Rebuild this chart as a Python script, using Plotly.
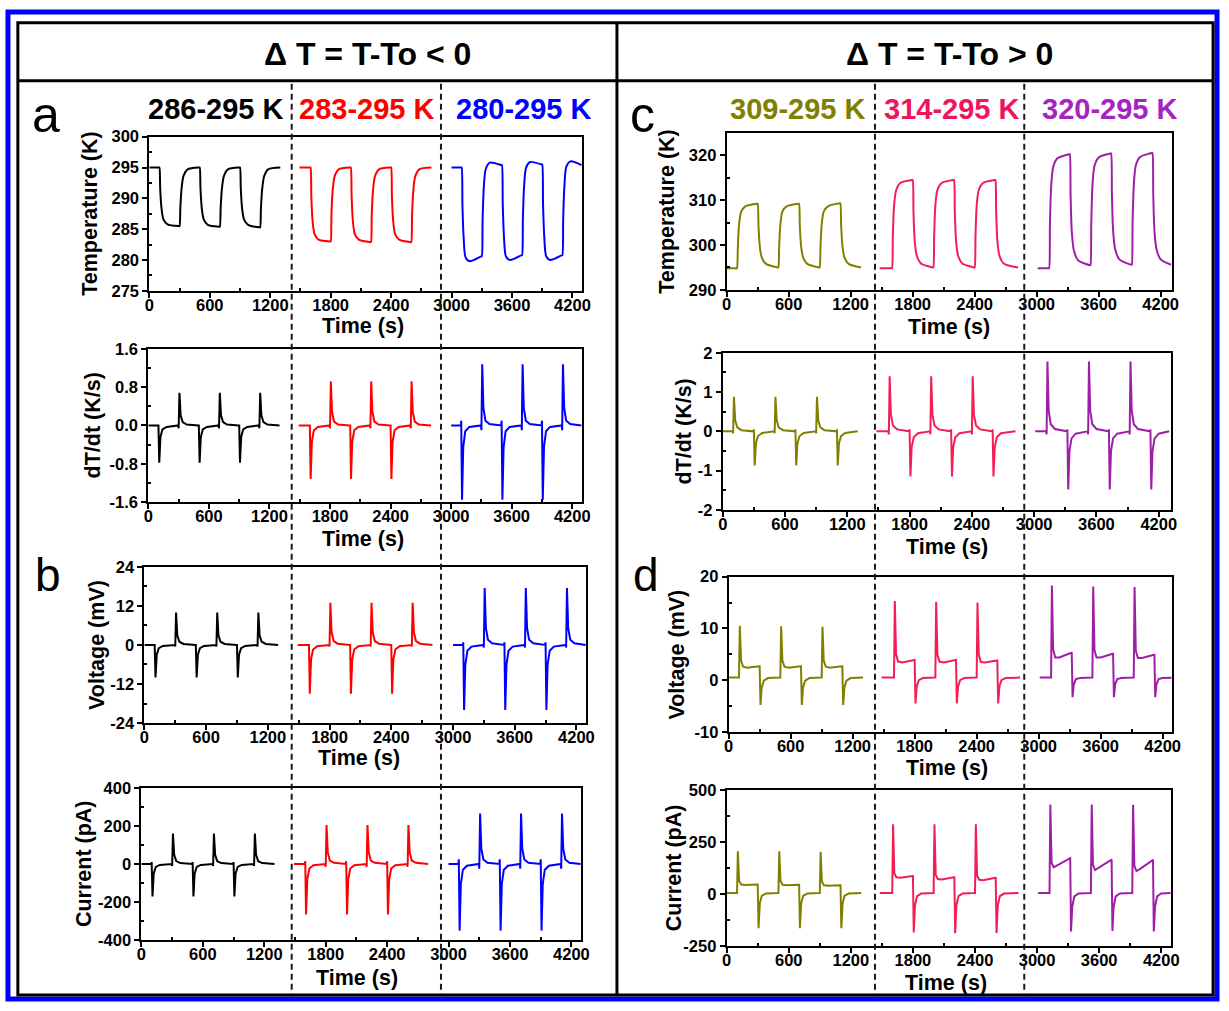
import plotly.graph_objects as go

# ---------------- time bases (s) ----------------
T_BLACK = [0, 96, 100, 108, 120, 140, 180, 296, 300, 308, 320, 340, 380, 496,
           500, 508, 520, 540, 580, 696, 700, 708, 720, 740, 780, 896,
           900, 908, 920, 940, 980, 1096, 1100, 1108, 1120, 1140, 1180, 1300]
T_RED = [1490, 1596, 1600, 1608, 1620, 1640, 1680, 1796, 1800, 1808, 1820, 1840, 1880, 1996,
         2000, 2008, 2020, 2040, 2080, 2196, 2200, 2208, 2220, 2240, 2280, 2396,
         2400, 2408, 2420, 2440, 2480, 2596, 2600, 2608, 2620, 2640, 2680, 2800]
T_BLUE = [3000, 3096, 3100, 3108, 3120, 3140, 3180, 3296, 3300, 3308, 3320, 3340, 3380, 3496,
          3500, 3508, 3520, 3540, 3580, 3696, 3700, 3708, 3720, 3740, 3780, 3896,
          3900, 3908, 3920, 3940, 3980, 4096, 4100, 4108, 4120, 4140, 4180, 4290]
T_OLIVE = [0, 96, 100, 108, 120, 140, 180, 296, 300, 308, 320, 340, 380, 496,
           500, 508, 520, 540, 580, 696, 700, 708, 720, 740, 780, 896,
           900, 908, 920, 940, 980, 1096, 1100, 1108, 1120, 1140, 1180, 1300]
T_PINK = [1480, 1596, 1600, 1608, 1620, 1640, 1680, 1796, 1800, 1808, 1820, 1840, 1880, 1996,
          2000, 2008, 2020, 2040, 2080, 2196, 2200, 2208, 2220, 2240, 2280, 2396,
          2400, 2408, 2420, 2440, 2480, 2596, 2600, 2608, 2620, 2640, 2680, 2820]
T_PURPLE = [3010, 3116, 3120, 3128, 3140, 3160, 3200, 3316, 3320, 3328, 3340, 3360, 3400, 3516,
            3520, 3528, 3540, 3560, 3600, 3716, 3720, 3728, 3740, 3760, 3800, 3916,
            3920, 3928, 3940, 3960, 4000, 4116, 4120, 4128, 4140, 4160, 4200, 4300]

# ---------------- (a) temperature, cooling (K) ----------------
TEMP_BLACK = [295.0, 295.0,
              295.0, 291.5, 288.5, 286.6, 285.8, 285.5,
              285.5, 288.6, 291.6, 293.7, 294.7, 295.0,
              295.0, 291.5, 288.5, 286.6, 285.7, 285.4,
              285.4, 288.5, 291.5, 293.6, 294.7, 295.0,
              295.0, 291.5, 288.5, 286.6, 285.7, 285.3,
              285.3, 288.5, 291.5, 293.6, 294.7, 295.0]
TEMP_RED = [295.0, 295.0,
            295.0, 290.2, 286.4, 284.2, 283.3, 283.0,
            283.0, 287.6, 291.3, 293.6, 294.7, 295.0,
            295.0, 290.2, 286.4, 284.2, 283.3, 282.9,
            282.9, 287.5, 291.2, 293.6, 294.7, 295.0,
            295.0, 290.2, 286.4, 284.2, 283.3, 282.9,
            282.9, 287.5, 291.2, 293.6, 294.7, 295.0]
TEMP_BLUE = [295.0, 295.0,
             295.0, 288.8, 283.6, 280.4, 279.8, 280.6,
             280.6, 286.6, 291.8, 294.8, 295.8, 295.4,
             295.4, 289.0, 283.8, 280.6, 280.0, 280.8,
             280.8, 286.8, 292.0, 295.0, 295.9, 295.5,
             295.5, 289.0, 283.8, 280.6, 280.0, 280.8,
             280.8, 286.8, 292.0, 295.2, 296.0, 295.4]

# ---------------- (a) dT/dt, cooling (K/s) ----------------
DTDT_BLACK = [0.0, 0.0,
              0.0, -0.78, -0.24, -0.08, -0.03, 0.0,
              -0.06, 0.68, 0.21, 0.07, 0.02, 0.0,
              0.0, -0.78, -0.24, -0.08, -0.03, 0.0,
              -0.06, 0.68, 0.21, 0.07, 0.02, 0.0,
              0.0, -0.78, -0.24, -0.08, -0.03, 0.0,
              -0.06, 0.68, 0.21, 0.07, 0.02, 0.0]
DTDT_RED = [0.0, 0.0,
            0.0, -1.12, -0.34, -0.10, -0.03, 0.0,
            -0.06, 0.92, 0.28, 0.08, 0.02, 0.0,
            0.0, -1.12, -0.34, -0.10, -0.03, 0.0,
            -0.06, 0.92, 0.28, 0.08, 0.02, 0.0,
            0.0, -1.12, -0.34, -0.10, -0.03, 0.0,
            -0.06, 0.92, 0.28, 0.08, 0.02, 0.0]
DTDT_BLUE = [0.0, 0.0,
             0.10, -1.55, -0.45, -0.12, -0.03, 0.0,
             -0.10, 1.28, 0.36, 0.10, 0.03, 0.0,
             0.10, -1.55, -0.45, -0.12, -0.03, 0.0,
             -0.10, 1.28, 0.36, 0.10, 0.03, 0.0,
             0.10, -1.55, -0.45, -0.12, -0.03, 0.0,
             -0.10, 1.28, 0.36, 0.10, 0.03, 0.0]

# ---------------- (b) voltage, cooling (mV) ----------------
VOLT_BLACK = [0.0, 0.0,
              0.0, -10.0, -3.0, -1.0, -0.3, 0.0,
              -0.5, 10.0, 3.0, 1.0, 0.3, 0.0,
              0.0, -10.0, -3.0, -1.0, -0.3, 0.0,
              -0.5, 10.0, 3.0, 1.0, 0.3, 0.0,
              0.0, -10.0, -3.0, -1.0, -0.3, 0.0,
              -0.5, 10.0, 3.0, 1.0, 0.3, 0.0]
VOLT_RED = [0.0, 0.0,
            0.0, -15.0, -4.5, -1.4, -0.4, 0.0,
            -0.5, 13.0, 3.9, 1.2, 0.4, 0.0,
            0.0, -15.0, -4.5, -1.4, -0.4, 0.0,
            -0.5, 13.0, 3.9, 1.2, 0.4, 0.0,
            0.0, -15.0, -4.5, -1.4, -0.4, 0.0,
            -0.5, 13.0, 3.9, 1.2, 0.4, 0.0]
VOLT_BLUE = [0.0, 0.0,
             0.8, -20.0, -6.0, -1.8, -0.5, 0.0,
             -0.8, 17.5, 5.2, 1.6, 0.5, 0.0,
             0.8, -20.0, -6.0, -1.8, -0.5, 0.0,
             -0.8, 17.5, 5.2, 1.6, 0.5, 0.0,
             0.8, -20.0, -6.0, -1.8, -0.5, 0.0,
             -0.8, 17.5, 5.2, 1.6, 0.5, 0.0]

# ---------------- (b) current, cooling (pA) ----------------
CURR_BLACK = [0.0, 0.0,
              10.0, -170.0, -50.0, -15.0, -5.0, 0.0,
              -10.0, 160.0, 48.0, 15.0, 5.0, 0.0,
              10.0, -170.0, -50.0, -15.0, -5.0, 0.0,
              -10.0, 160.0, 48.0, 15.0, 5.0, 0.0,
              10.0, -170.0, -50.0, -15.0, -5.0, 0.0,
              -10.0, 160.0, 48.0, 15.0, 5.0, 0.0]
CURR_RED = [0.0, 0.0,
            15.0, -265.0, -80.0, -24.0, -7.0, 0.0,
            -15.0, 205.0, 62.0, 18.0, 6.0, 0.0,
            15.0, -265.0, -80.0, -24.0, -7.0, 0.0,
            -15.0, 205.0, 62.0, 18.0, 6.0, 0.0,
            15.0, -265.0, -80.0, -24.0, -7.0, 0.0,
            -15.0, 205.0, 62.0, 18.0, 6.0, 0.0]
CURR_BLUE = [0.0, 0.0,
             25.0, -350.0, -105.0, -30.0, -9.0, 0.0,
             -25.0, 265.0, 80.0, 24.0, 7.0, 0.0,
             25.0, -350.0, -105.0, -30.0, -9.0, 0.0,
             -25.0, 265.0, 80.0, 24.0, 7.0, 0.0,
             25.0, -350.0, -105.0, -30.0, -9.0, 0.0,
             -25.0, 265.0, 80.0, 24.0, 7.0, 0.0]

# ---------------- (c) temperature, heating (K) ----------------
TEMP_OLIVE = [294.8, 294.8,
              294.8, 299.5, 304.6, 307.4, 308.6, 309.2,
              309.2, 304.2, 299.8, 297.2, 295.8, 295.0,
              295.0, 299.7, 304.7, 307.5, 308.6, 309.2,
              309.2, 304.2, 299.8, 297.2, 295.8, 295.0,
              295.0, 299.7, 304.7, 307.5, 308.6, 309.3,
              309.3, 304.2, 299.8, 297.2, 295.8, 295.0]
TEMP_PINK = [294.8, 294.8,
             294.8, 302.0, 308.8, 312.2, 313.8, 314.5,
             314.5, 307.0, 300.8, 297.6, 295.9, 295.0,
             295.0, 302.2, 309.0, 312.3, 313.8, 314.5,
             314.5, 307.0, 300.8, 297.6, 295.9, 295.0,
             295.0, 302.2, 309.0, 312.3, 313.8, 314.5,
             314.5, 307.0, 300.8, 297.6, 295.9, 295.0]
TEMP_PURPLE = [294.8, 294.8,
               294.8, 304.5, 313.0, 317.4, 319.3, 320.2,
               320.2, 311.0, 302.8, 298.8, 296.6, 295.5,
               295.5, 305.0, 313.4, 317.7, 319.5, 320.4,
               320.4, 311.2, 303.0, 299.0, 296.8, 295.6,
               295.6, 305.0, 313.5, 317.8, 319.6, 320.5,
               320.5, 311.2, 303.0, 299.0, 296.8, 295.6]

# ---------------- (c) dT/dt, heating (K/s) ----------------
DTDT_OLIVE = [0.0, 0.0,
              -0.05, 0.88, 0.28, 0.10, 0.03, 0.0,
              0.05, -0.87, -0.30, -0.12, -0.04, 0.0,
              -0.05, 0.88, 0.28, 0.10, 0.03, 0.0,
              0.05, -0.87, -0.30, -0.12, -0.04, 0.0,
              -0.05, 0.88, 0.28, 0.10, 0.03, 0.0,
              0.05, -0.87, -0.30, -0.12, -0.04, 0.0]
DTDT_PINK = [0.0, 0.0,
             -0.08, 1.40, 0.42, 0.15, 0.05, 0.0,
             0.05, -1.15, -0.40, -0.15, -0.05, 0.0,
             -0.08, 1.40, 0.42, 0.15, 0.05, 0.0,
             0.05, -1.15, -0.40, -0.15, -0.05, 0.0,
             -0.08, 1.40, 0.42, 0.15, 0.05, 0.0,
             0.05, -1.15, -0.40, -0.15, -0.05, 0.0]
DTDT_PURPLE = [0.0, 0.0,
               -0.08, 1.78, 0.52, 0.18, 0.06, 0.0,
               0.05, -1.48, -0.50, -0.18, -0.06, 0.0,
               -0.08, 1.78, 0.52, 0.18, 0.06, 0.0,
               0.05, -1.48, -0.50, -0.18, -0.06, 0.0,
               -0.08, 1.78, 0.52, 0.18, 0.06, 0.0,
               0.05, -1.48, -0.50, -0.18, -0.06, 0.0]

# ---------------- (d) voltage, heating (mV) ----------------
VOLT_OLIVE = [0.5, 0.5,
              0.5, 10.5, 3.8, 2.6, 2.4, 2.7,
              2.7, -4.8, -1.4, -0.1, 0.4, 0.5,
              0.5, 10.4, 3.8, 2.6, 2.4, 2.7,
              2.7, -4.8, -1.4, -0.1, 0.4, 0.5,
              0.5, 10.3, 3.8, 2.6, 2.4, 2.7,
              2.7, -4.8, -1.4, -0.1, 0.4, 0.5]
VOLT_PINK = [0.5, 0.5,
             0.5, 15.3, 5.0, 3.6, 3.4, 3.9,
             3.9, -4.5, -1.2, 0.0, 0.4, 0.5,
             0.5, 15.1, 5.0, 3.6, 3.4, 3.9,
             3.9, -4.5, -1.2, 0.0, 0.4, 0.5,
             0.5, 15.0, 5.0, 3.5, 3.4, 3.8,
             3.8, -4.5, -1.2, 0.0, 0.4, 0.5]
VOLT_PURPLE = [0.5, 0.5,
               0.5, 18.3, 6.0, 4.4, 4.4, 5.3,
               5.3, -3.3, -0.8, 0.2, 0.4, 0.5,
               0.5, 18.1, 5.8, 4.4, 4.4, 5.1,
               5.1, -3.3, -0.8, 0.2, 0.4, 0.5,
               0.5, 18.0, 5.7, 4.3, 4.3, 4.9,
               4.9, -3.3, -0.8, 0.2, 0.4, 0.5]

# ---------------- (d) current, heating (pA) ----------------
CURR_OLIVE = [5.0, 5.0,
              5.0, 205.0, 62.0, 45.0, 43.0, 45.0,
              45.0, -165.0, -45.0, -8.0, 2.0, 5.0,
              5.0, 205.0, 62.0, 44.0, 42.0, 44.0,
              44.0, -165.0, -45.0, -8.0, 2.0, 5.0,
              5.0, 203.0, 60.0, 42.0, 40.0, 42.0,
              42.0, -165.0, -45.0, -8.0, 2.0, 5.0]
CURR_PINK = [5.0, 5.0,
             5.0, 335.0, 100.0, 80.0, 78.0, 86.0,
             86.0, -185.0, -55.0, -10.0, 2.0, 5.0,
             5.0, 335.0, 92.0, 72.0, 70.0, 80.0,
             80.0, -188.0, -55.0, -10.0, 2.0, 5.0,
             5.0, 335.0, 88.0, 68.0, 66.0, 78.0,
             78.0, -188.0, -55.0, -10.0, 2.0, 5.0]
CURR_PURPLE = [5.0, 5.0,
               5.0, 430.0, 150.0, 128.0, 140.0, 172.0,
               172.0, -180.0, -60.0, -12.0, 2.0, 5.0,
               5.0, 430.0, 140.0, 115.0, 128.0, 165.0,
               165.0, -178.0, -60.0, -12.0, 2.0, 5.0,
               5.0, 428.0, 135.0, 110.0, 122.0, 162.0,
               162.0, -180.0, -60.0, -12.0, 2.0, 5.0]

# ---------------- tick values and labels ----------------
X_TICKS = [0, 600, 1200, 1800, 2400, 3000, 3600, 4200]
X_TICK_TEXT = ["0", "600", "1200", "1800", "2400", "3000", "3600", "4200"]
X_MINOR = [300, 900, 1500, 2100, 2700, 3300, 3900]

TEMP_A_TICKS = [275, 280, 285, 290, 295, 300]
DTDT_A_TICKS = [-1.6, -0.8, 0.0, 0.8, 1.6]
DTDT_A_TEXT = ["-1.6", "-0.8", "0.0", "0.8", "1.6"]
VOLT_B_TICKS = [-24, -12, 0, 12, 24]
CURR_B_TICKS = [-400, -200, 0, 200, 400]
TEMP_C_TICKS = [290, 300, 310, 320]
DTDT_C_TICKS = [-2, -1, 0, 1, 2]
VOLT_D_TICKS = [-10, 0, 10, 20]
CURR_D_TICKS = [-250, 0, 250, 500]

LEFT_LABELS = ["286-295 K", "283-295 K", "280-295 K"]
RIGHT_LABELS = ["309-295 K", "314-295 K", "320-295 K"]
HEADERS = ["Δ T = T-To < 0", "Δ T = T-To > 0"]

# ---------------- styling ----------------
W, H = 1229, 1011
FONT = "Liberation Sans"
C_BLACK, C_RED, C_BLUE = "#000000", "#FF0000", "#0000FF"
C_OLIVE, C_PINK, C_PURPLE = "#808000", "#F21E55", "#9E1FA6"
LEFT_COLORS = [C_BLACK, C_RED, C_BLUE]
RIGHT_COLORS = [C_OLIVE, C_PINK, C_PURPLE]
RIGHT_TEXT_COLORS = [C_OLIVE, "#F0145C", "#A424C2"]


def px(x):
    return x / W


def py(y):
    return 1 - y / H


def ticktext(vals):
    return [str(v) for v in vals]


def minor_between(vals):
    return [(a + b) / 2 for a, b in zip(vals[:-1], vals[1:])]


# each panel: pixel box, x range, y range, y ticks, y tick text, y title,
# y-title x position, time-label position, series
panels = [
    dict(box=(146, 584, 130, 287), xr=4298, yr=(275, 300), yt=TEMP_A_TICKS,
         ytt=ticktext(TEMP_A_TICKS), title="Temperature (K)", tx=86, ty_time=323,
         times=[T_BLACK, T_RED, T_BLUE], ys=[TEMP_BLACK, TEMP_RED, TEMP_BLUE],
         colors=LEFT_COLORS, time_x=362, shape="spline"),
    dict(box=(145, 584, 346, 502), xr=4300, yr=(-1.6, 1.6), yt=DTDT_A_TICKS,
         ytt=DTDT_A_TEXT, title="dT/dt (K/s)", tx=89, ty_time=540,
         times=[T_BLACK, T_RED, T_BLUE], ys=[DTDT_BLACK, DTDT_RED, DTDT_BLUE],
         colors=LEFT_COLORS, time_x=362, shape="linear"),
    dict(box=(141, 588, 568, 727), xr=4296, yr=(-24, 24), yt=VOLT_B_TICKS,
         ytt=ticktext(VOLT_B_TICKS), title="Voltage (mV)", tx=93, ty_time=763,
         times=[T_BLACK, T_RED, T_BLUE], ys=[VOLT_BLACK, VOLT_RED, VOLT_BLUE],
         colors=LEFT_COLORS, time_x=358, shape="linear"),
    dict(box=(138, 583, 793, 948), xr=4297, yr=(-400, 400), yt=CURR_B_TICKS,
         ytt=ticktext(CURR_B_TICKS), title="Current (pA)", tx=80, ty_time=987,
         times=[T_BLACK, T_RED, T_BLUE], ys=[CURR_BLACK, CURR_RED, CURR_BLUE],
         colors=LEFT_COLORS, time_x=356, shape="linear"),
    dict(box=(730, 1180, 126, 286), xr=4305, yr=(290, 325), yt=TEMP_C_TICKS,
         ytt=ticktext(TEMP_C_TICKS), title="Temperature (K)", tx=670, ty_time=324,
         times=[T_OLIVE, T_PINK, T_PURPLE], ys=[TEMP_OLIVE, TEMP_PINK, TEMP_PURPLE],
         colors=RIGHT_COLORS, time_x=955, shape="spline"),
    dict(box=(726, 1179, 350, 510), xr=4314, yr=(-2, 2), yt=DTDT_C_TICKS,
         ytt=ticktext(DTDT_C_TICKS), title="dT/dt (K/s)", tx=687, ty_time=548,
         times=[T_OLIVE, T_PINK, T_PURPLE], ys=[DTDT_OLIVE, DTDT_PINK, DTDT_PURPLE],
         colors=RIGHT_COLORS, time_x=953, shape="linear"),
    dict(box=(732, 1180, 578, 736), xr=4286, yr=(-10, 20), yt=VOLT_D_TICKS,
         ytt=ticktext(VOLT_D_TICKS), title="Voltage (mV)", tx=680, ty_time=773,
         times=[T_OLIVE, T_PINK, T_PURPLE], ys=[VOLT_OLIVE, VOLT_PINK, VOLT_PURPLE],
         colors=RIGHT_COLORS, time_x=953, shape="linear"),
    dict(box=(730, 1179, 795, 954), xr=4290, yr=(-250, 500), yt=CURR_D_TICKS,
         ytt=ticktext(CURR_D_TICKS), title="Current (pA)", tx=677, ty_time=992,
         times=[T_OLIVE, T_PINK, T_PURPLE], ys=[CURR_OLIVE, CURR_PINK, CURR_PURPLE],
         colors=RIGHT_COLORS, time_x=952, shape="linear"),
]

fig = go.Figure()
layout = dict(
    width=W, height=H, margin=dict(l=0, r=0, t=0, b=0),
    paper_bgcolor="white", plot_bgcolor="rgba(0,0,0,0)", showlegend=False,
    font=dict(family=FONT, color="black"),
)
annotations = []
tick_font = dict(family=FONT, size=16.5, color="black", weight="bold")
axis_common = dict(showline=True, linecolor="black", linewidth=2, mirror=True,
                   showgrid=False, zeroline=False, ticks="outside", ticklen=5,
                   tickwidth=1.5, tickcolor="black", tickfont=tick_font)
label_font = dict(family=FONT, size=21.5, color="black", weight="bold")

for k, p in enumerate(panels, start=1):
    x0, x1, ytop, ybot = p["box"]
    xname = "x" if k == 1 else f"x{k}"
    yname = "y" if k == 1 else f"y{k}"
    line = dict(width=2, shape=p["shape"])
    if p["shape"] == "spline":
        line["smoothing"] = 0.8
    for t, v, c in zip(p["times"], p["ys"], p["colors"]):
        fig.add_trace(go.Scatter(x=t, y=v, mode="lines", xaxis=xname, yaxis=yname,
                                 line=dict(line, color=c), hoverinfo="skip"))
    layout["xaxis" if k == 1 else f"xaxis{k}"] = dict(
        axis_common, domain=[px(x0), px(x1)], range=[0, p["xr"]], anchor=yname,
        tickmode="array", tickvals=X_TICKS, ticktext=X_TICK_TEXT, ticklabelstandoff=-7,
        minor=dict(tickmode="array", tickvals=X_MINOR, ticks="inside", ticklen=3,
                   tickwidth=1.5, tickcolor="black"),
    )
    layout["yaxis" if k == 1 else f"yaxis{k}"] = dict(
        axis_common, domain=[py(ybot), py(ytop)], range=list(p["yr"]), anchor=xname,
        tickmode="array", tickvals=p["yt"], ticktext=p["ytt"],
        minor=dict(tickmode="array", tickvals=minor_between(p["yt"]), ticks="inside",
                   ticklen=3, tickwidth=1.5, tickcolor="black"),
    )
    # rotated y title
    annotations.append(dict(
        text=p["title"], x=px(p["tx"]), y=py((ytop + ybot) / 2), xref="paper", yref="paper",
        textangle=-90, showarrow=False, xanchor="center", yanchor="middle", font=label_font))
    # time label
    annotations.append(dict(
        text="Time (s)", x=px(p["time_x"]), y=py(p["ty_time"]), xref="paper", yref="paper",
        showarrow=False, xanchor="center", yanchor="middle", font=label_font))

# column headers
for text, cx in zip(HEADERS, [367, 955]):
    annotations.append(dict(
        text=text, x=px(cx), y=py(46), xref="paper", yref="paper", showarrow=False,
        xanchor="center", yanchor="middle",
        font=dict(family=FONT, size=32, color="black", weight="bold")))

# series labels above the top panels
for text, cx, col in zip(LEFT_LABELS, [213, 366, 524], LEFT_COLORS):
    annotations.append(dict(
        text=text, x=px(cx), y=py(102), xref="paper", yref="paper", showarrow=False,
        xanchor="center", yanchor="middle",
        font=dict(family=FONT, size=29, color=col, weight="bold")))
for text, cx, col in zip(RIGHT_LABELS, [802, 957, 1117], RIGHT_TEXT_COLORS):
    annotations.append(dict(
        text=text, x=px(cx), y=py(102), xref="paper", yref="paper", showarrow=False,
        xanchor="center", yanchor="middle",
        font=dict(family=FONT, size=29, color=col, weight="bold")))

# panel letters
for text, (lx, ly), size in zip(["a", "b", "c", "d"],
                                [(41, 108), (43, 576), (645, 108), (648, 576)],
                                [50, 46, 50, 46]):
    annotations.append(dict(
        text=text, x=px(lx), y=py(ly), xref="paper", yref="paper", showarrow=False,
        xanchor="center", yanchor="middle",
        font=dict(family=FONT, size=size, color="black")))

layout["annotations"] = annotations

shapes = []
# outer blue border
shapes.append(dict(type="rect", xref="paper", yref="paper", x0=px(3), x1=px(1226),
                   y0=py(1008), y1=py(3), line=dict(color="#0000FF", width=5)))
# table frame
shapes.append(dict(type="rect", xref="paper", yref="paper", x0=px(13), x1=px(1222),
                   y0=py(1004), y1=py(14), line=dict(color="black", width=3)))
shapes.append(dict(type="line", xref="paper", yref="paper", x0=px(13), x1=px(1222),
                   y0=py(73), y1=py(73), line=dict(color="black", width=3)))
shapes.append(dict(type="line", xref="paper", yref="paper", x0=px(619), x1=px(619),
                   y0=py(14), y1=py(1004), line=dict(color="black", width=3)))
# dashed separators between temperature ranges
for xd in [290, 441, 880, 1031]:
    shapes.append(dict(type="line", xref="paper", yref="paper", x0=px(xd), x1=px(xd),
                       y0=py(76), y1=py(1003),
                       line=dict(color="#1a1a1a", width=2, dash="6px,4px")))
layout["shapes"] = shapes

fig.update_layout(**layout)
fig.write_html("out.html")
